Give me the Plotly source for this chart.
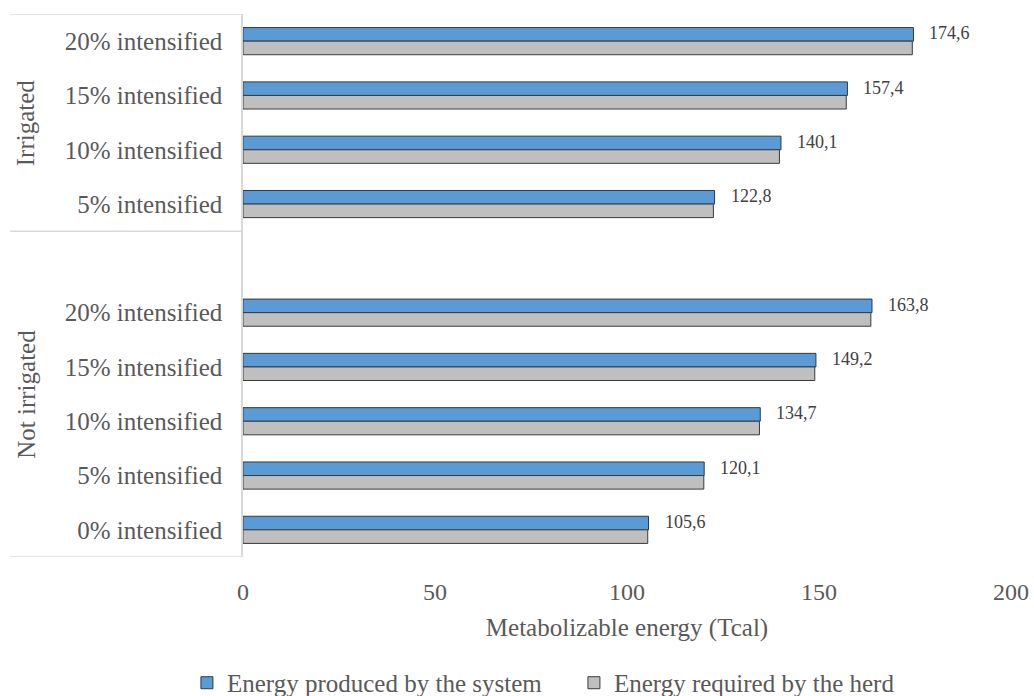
import plotly.graph_objects as go

# Scenario groups and their intensification levels (top to bottom)
group_names = ["Irrigated", "Not irrigated"]
irrigated_levels = ["20% intensified", "15% intensified", "10% intensified", "5% intensified"]
not_irrigated_levels = ["", "20% intensified", "15% intensified", "10% intensified",
                        "5% intensified", "0% intensified"]

# Metabolizable energy (Tcal)
produced_irrigated = [174.6, 157.4, 140.1, 122.8]
required_irrigated = [174.3, 157.1, 139.7, 122.5]
produced_not_irrigated = [None, 163.8, 149.2, 134.7, 120.1, 105.6]
required_not_irrigated = [None, 163.5, 148.9, 134.5, 120.0, 105.4]

series_names = ["Energy produced by the system", "Energy required by the herd"]
x_ticks = [0, 50, 100, 150, 200]

FONT = "Liberation Serif, Times New Roman, serif"
TEXT = "#595959"
BORDER = "#D9D9D9"

labels = irrigated_levels + not_irrigated_levels
positions = list(range(len(labels)))
produced = produced_irrigated + produced_not_irrigated
required = required_irrigated + required_not_irrigated

BARGAP = 0.5
bar_w = (1 - BARGAP) / 2

fig = go.Figure()
fig.add_trace(go.Bar(
    y=positions, x=produced, orientation="h", name=series_names[0],
    marker=dict(color="#5B9BD5", line=dict(color="#2B3A4A", width=1)),
))
fig.add_trace(go.Bar(
    y=positions, x=required, orientation="h", name=series_names[1],
    marker=dict(color="#BFBFBF", line=dict(color="#3A3A3A", width=1)),
))

# value labels next to the "produced" bars
for p, v in zip(positions, produced):
    if v is None:
        continue
    fig.add_annotation(
        x=v, y=p - bar_w / 2, xref="x", yref="y",
        text=f"{v:.1f}".replace(".", ","), showarrow=False,
        xanchor="left", yanchor="middle", xshift=14, yshift=1,
        font=dict(family=FONT, size=18, color="#404040"),
    )

# outer group labels, rotated, centred on each group's rows
n_irr = len(irrigated_levels)
group_spans = [(-0.5, n_irr - 0.5), (n_irr - 0.5, len(labels) - 0.5)]
for name, (a, b) in zip(group_names, group_spans):
    fig.add_annotation(
        x=-0.283, y=(a + b) / 2, xref="paper", yref="y",
        text=name, textangle=-90, showarrow=False,
        xanchor="center", yanchor="middle",
        font=dict(family=FONT, size=25, color=TEXT),
    )

# table-like border lines of the category area
for yv in [-0.5, n_irr - 0.5, len(labels) - 0.5]:
    fig.add_shape(
        type="line", xref="paper", yref="y",
        x0=-0.3034, x1=0, y0=yv, y1=yv,
        line=dict(color=BORDER, width=1.5),
    )

fig.update_layout(
    width=1034, height=696,
    margin=dict(l=243, r=23, t=14, b=139, autoexpand=False),
    paper_bgcolor="white", plot_bgcolor="white",
    barmode="group", bargap=BARGAP, bargroupgap=0,
    font=dict(family=FONT, color=TEXT),
    showlegend=True,
    legend=dict(
        orientation="h", x=-0.073, xanchor="left", y=-0.232, yanchor="middle",
        font=dict(family=FONT, size=25, color=TEXT),
        entrywidth=342, entrywidthmode="pixels",
        bgcolor="rgba(0,0,0,0)",
    ),
)

fig.update_xaxes(
    range=[0, 200], tickvals=x_ticks, ticktext=[str(t) for t in x_ticks],
    showgrid=False, zeroline=False, showline=False,
    tickfont=dict(family=FONT, size=24, color=TEXT),
    ticklabelstandoff=18,
    title=dict(text="Metabolizable energy (Tcal)", standoff=14,
               font=dict(family=FONT, size=25, color=TEXT)),
)
fig.update_yaxes(
    tickvals=positions, ticktext=labels,
    range=[len(labels) - 0.5, -0.5],
    showgrid=False, zeroline=False,
    showline=True, linecolor=BORDER, linewidth=1.5,
    tickfont=dict(family=FONT, size=25, color=TEXT),
    ticklabelstandoff=14,
)

fig.write_html("out.html")
